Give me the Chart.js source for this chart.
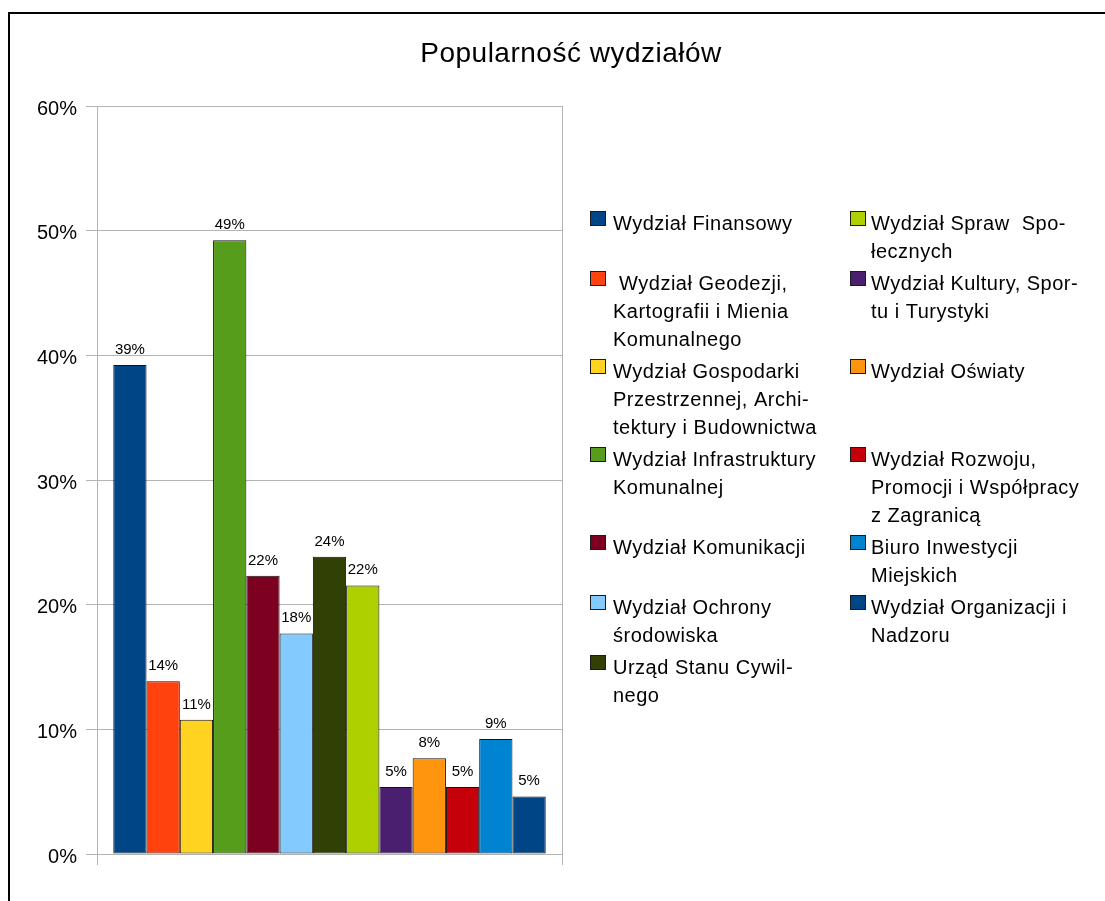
<!DOCTYPE html>
<html lang="pl">
<head>
<meta charset="utf-8">
<title>Popularność wydziałów</title>
<script src="https://cdn.jsdelivr.net/npm/chart.js@4.4.1/dist/chart.umd.min.js"></script>
<style>
  html, body { margin: 0; padding: 0; background: #fff; overflow: hidden; }
  #wrap { position: relative; width: 1105px; height: 901px; }
  #frame { position: absolute; left: 8px; top: 12px; width: 1200px; height: 1000px;
           border-left: 2px solid #000; border-top: 2px solid #000; }
  #chart { position: absolute; left: 0; top: 0; }
</style>
</head>
<body>
<div id="wrap">
  <div id="frame"></div>
  <canvas id="chart" width="1105" height="901"></canvas>
</div>
<script>
// Department names; "\n" marks where the legend text wraps
const departments = [
  'Wydział Finansowy',
  ' Wydział Geodezji,\nKartografii i Mienia\nKomunalnego',
  'Wydział Gospodarki\nPrzestrzennej, Archi-\ntektury i Budownictwa',
  'Wydział Infrastruktury\nKomunalnej',
  'Wydział Komunikacji',
  'Wydział Ochrony\nśrodowiska',
  'Urząd Stanu Cywil-\nnego',
  'Wydział Spraw  Spo-\nłecznych',
  'Wydział Kultury, Spor-\ntu i Turystyki',
  'Wydział Oświaty',
  'Wydział Rozwoju,\nPromocji i Współpracy\nz Zagranicą',
  'Biuro Inwestycji\nMiejskich',
  'Wydział Organizacji i\nNadzoru'
];

// Share of answers per department, in percent
const shares = [39.23, 13.85, 10.77, 49.23, 22.31, 17.69, 23.85, 21.54, 5.38, 7.69, 5.38, 9.23, 4.62];

const colors = [
  '#004586', '#ff420e', '#ffd320', '#579d1c', '#7e0021', '#83caff', '#314004',
  '#aecf00', '#4b1f6f', '#ff950e', '#c5000b', '#0084d1', '#004586'
];

const yTicks = [0, 10, 20, 30, 40, 50, 60];
const chartTitle = 'Popularność wydziałów';

const FONT = '"Liberation Sans", Arial, sans-serif';
const GRID = '#b3b3b3';

// Title drawn centred above the plot
const titlePlugin = {
  id: 'titleText',
  afterDraw(chart) {
    const ctx = chart.ctx;
    ctx.save();
    ctx.font = '28px ' + FONT;
    if ('letterSpacing' in ctx) ctx.letterSpacing = '0.5px';
    ctx.fillStyle = '#000';
    ctx.textAlign = 'center';
    ctx.textBaseline = 'alphabetic';
    ctx.fillText(chartTitle, 571, 62);
    ctx.restore();
  }
};

// Percentage labels above each bar
const valueLabels = {
  id: 'valueLabels',
  afterDatasetsDraw(chart) {
    const ctx = chart.ctx;
    ctx.save();
    ctx.font = '15px ' + FONT;
    ctx.fillStyle = '#000';
    ctx.textAlign = 'center';
    ctx.textBaseline = 'alphabetic';
    chart.data.datasets.forEach((ds, i) => {
      const bar = chart.getDatasetMeta(i).data[0];
      ctx.fillText(Math.round(ds.data[0]) + '%', bar.x, bar.y - 11);
    });
    ctx.restore();
  }
};

// Two-column legend to the right of the plot, rows aligned across columns
const sideLegend = {
  id: 'sideLegend',
  afterDraw(chart) {
    const ctx = chart.ctx;
    const rows = Math.ceil(departments.length / 2);
    const cols = [{ box: 590, text: 613 }, { box: 850, text: 871 }];
    const lineH = 28, rowGap = 4;
    ctx.save();
    ctx.font = '20px ' + FONT;
    if ('letterSpacing' in ctx) ctx.letterSpacing = '0.5px';
    ctx.textAlign = 'left';
    ctx.textBaseline = 'alphabetic';
    let y = 230;
    for (let r = 0; r < rows; r++) {
      let maxLines = 1;
      for (let c = 0; c < 2; c++) {
        const idx = c * rows + r;
        if (idx >= departments.length) continue;
        const lines = departments[idx].split('\n');
        maxLines = Math.max(maxLines, lines.length);
        ctx.fillStyle = colors[idx];
        ctx.fillRect(cols[c].box, y - 19, 16, 15);
        ctx.strokeStyle = '#1a1a1a';
        ctx.lineWidth = 1;
        ctx.strokeRect(cols[c].box + 0.5, y - 18.5, 15, 14);
        ctx.fillStyle = '#000';
        lines.forEach((ln, k) => ctx.fillText(ln, cols[c].text, y + k * lineH));
      }
      y += maxLines * lineH + rowGap;
    }
    ctx.restore();
  }
};

const datasets = departments.map((name, i) => ({
  label: name.replace(/-\n/g, '').replace(/\n/g, ' ').trim(),
  data: [shares[i]],
  backgroundColor: colors[i],
  borderColor: '#111',
  borderWidth: 1,
  borderSkipped: false,
  barPercentage: 1,
  categoryPercentage: 0.93
}));

new Chart(document.getElementById('chart'), {
  type: 'bar',
  data: { labels: [''], datasets },
  options: {
    responsive: false,
    devicePixelRatio: 1,
    animation: false,
    layout: { padding: { left: 0, right: 543, top: 106, bottom: 0 } },
    plugins: {
      legend: { display: false },
      title: { display: false },
      tooltip: { enabled: false }
    },
    scales: {
      x: {
        grid: { color: GRID, tickLength: 11, offset: true },
        border: { color: GRID },
        ticks: { display: false },
        afterFit(scale) { scale.height = 47; }
      },
      y: {
        min: yTicks[0],
        max: yTicks[yTicks.length - 1],
        afterBuildTicks(scale) { scale.ticks = yTicks.map(v => ({ value: v })); },
        grid: { color: GRID, tickLength: 11 },
        border: { color: GRID },
        ticks: {
          padding: 9,
          labelOffset: 3,
          color: '#000',
          font: { family: FONT, size: 20 },
          callback: v => v + '%'
        },
        afterFit(scale) { scale.width = 97; }
      }
    }
  },
  plugins: [titlePlugin, valueLabels, sideLegend]
});
</script>
</body>
</html>
